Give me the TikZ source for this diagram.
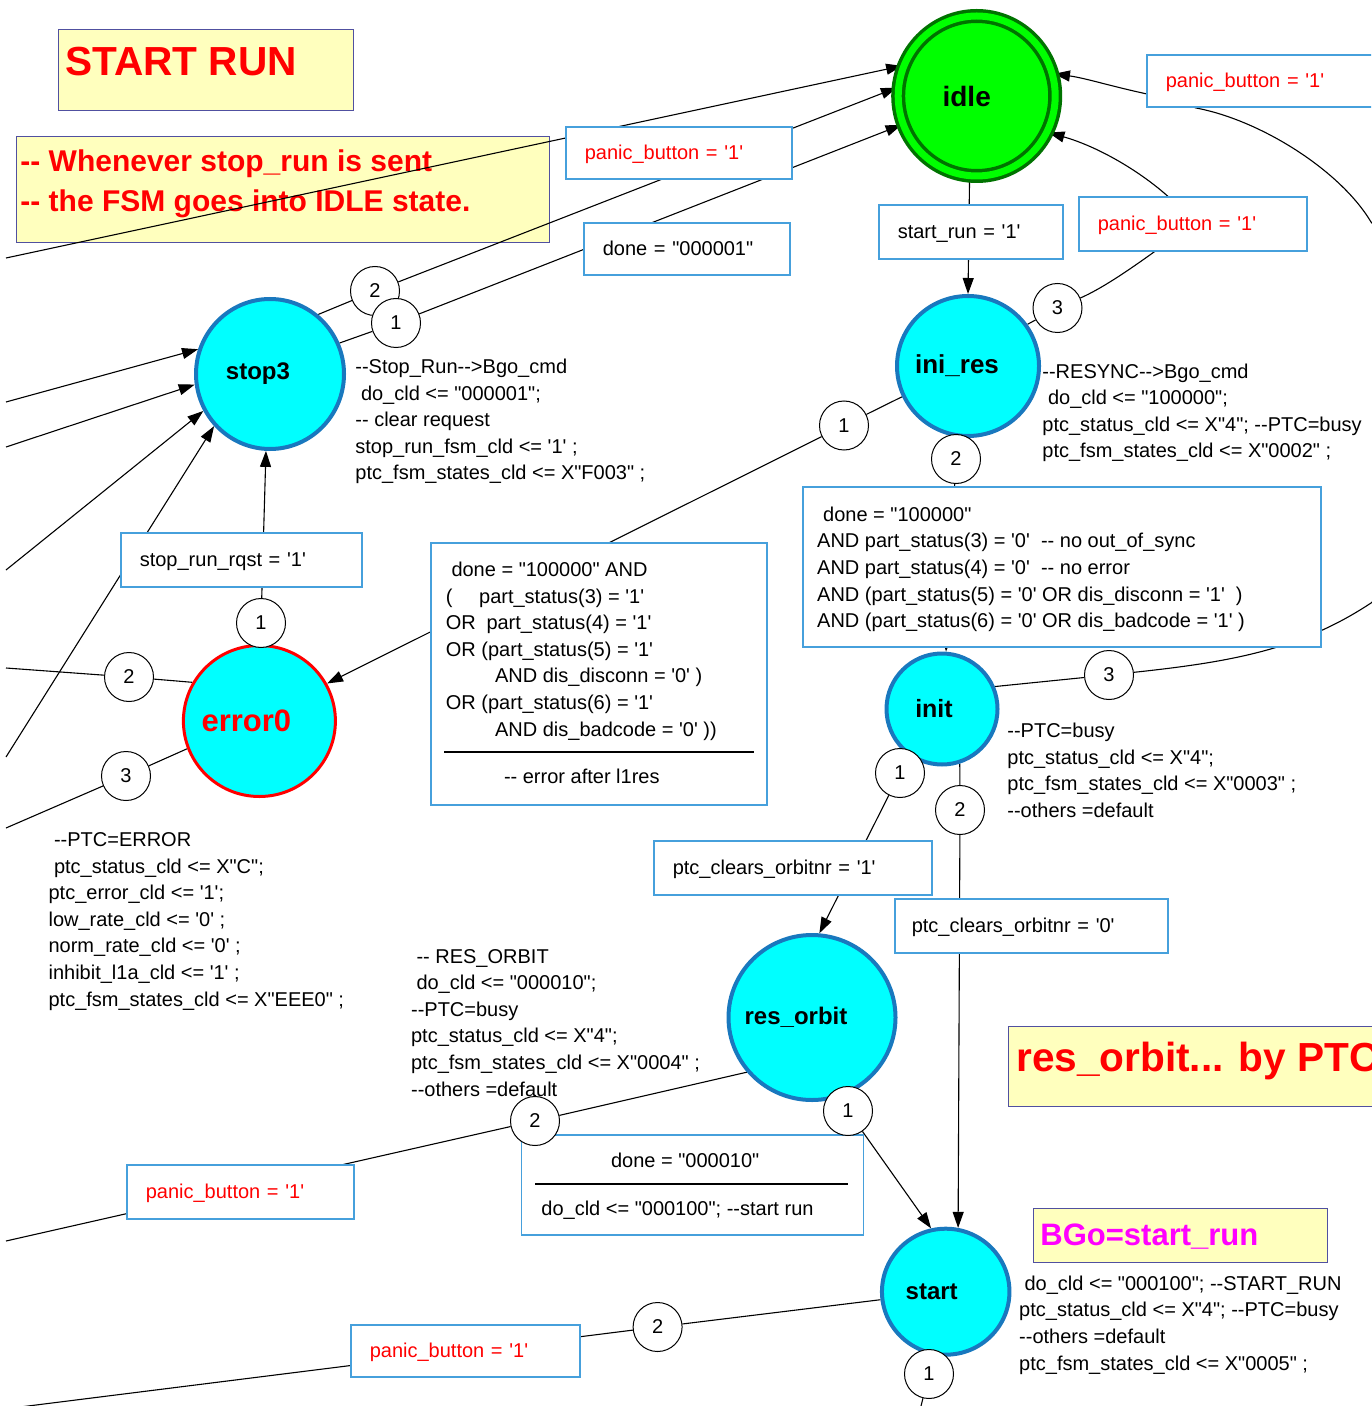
\documentclass[tikz,border=0pt]{standalone}
\usepackage{fontspec}
\newfontfamily\lsans{Liberation Sans}
\usetikzlibrary{shapes.geometric,arrows.meta}
\pgfdeclarelayer{bg}
\pgfdeclarelayer{lines}
\pgfsetlayers{bg,lines,main}
\definecolor{cyanf}{RGB}{0,255,255}
\definecolor{stb}{RGB}{25,120,190}
\definecolor{lblb}{RGB}{70,160,220}
\definecolor{ylw}{RGB}{255,255,190}
\definecolor{ylwb}{RGB}{80,80,160}
\definecolor{idlef}{RGB}{0,255,0}
\definecolor{idleb}{RGB}{0,115,0}
\definecolor{rd}{RGB}{255,0,0}
\definecolor{mag}{RGB}{255,0,255}
\newcommand\nf{\lsans\fontsize{10}{13.3}\selectfont}
\newcommand\stlab[2]{\makebox[0pt]{#2\hspace*{#1}}}
\tikzset{
  state/.style={ellipse, draw=stb, line width=2pt, fill=cyanf, inner sep=0pt},
  num/.style={ellipse, draw, fill=white, line width=0.5pt, minimum width=24.5pt, minimum height=24.5pt, inner sep=0pt, font=\nf},
  lbl/.style 2 args={rectangle, draw=lblb, fill=white, line width=0.8pt, inner xsep=9.5pt, inner ysep=0pt, text height=9pt, text depth=2pt, align=left, anchor=north west, text width=#1, minimum height=#2, font=\nf},
  bigbox/.style 2 args={rectangle, draw=lblb, fill=white, line width=0.8pt, anchor=north west, minimum width=#1, minimum height=#2, inner sep=0pt},
  ybox/.style 2 args={rectangle, draw=ylwb, fill=ylw, line width=0.6pt, anchor=north west, minimum width=#1, minimum height=#2, inner sep=0pt},
  txt/.style={anchor=base west, align=left, inner sep=0pt, font=\nf},
  conn/.style={line width=0.55pt, black},
  arr/.style={conn, -{Triangle[length=8pt,width=5.5pt]}}
}
\begin{document}
\begin{tikzpicture}[x=0.5pt,y=-0.5pt]
\useasboundingbox (0,0) rectangle (1371,1406);
\clip (0,0) rectangle (1371,1406);

% yellow notes (multi-line texts are placed by the baseline of their last line)
\begin{pgfonlayer}{bg}
\node[ybox={147.5pt}{40.5pt}] (yStart) at (58,29) {};
\node[anchor=base west, inner sep=0pt, text=rd, font=\lsans\bfseries\fontsize{20.3}{24}\selectfont] (tStart) at (65,76) {START RUN};
\node[ybox={266.5pt}{53pt}] (yWhen) at (16,136) {};
\node[anchor=base west, inner sep=0pt, align=left, text=rd, font=\lsans\bfseries\fontsize{15}{20}\selectfont] (tWhen) at (20,211.7) {-- Whenever stop\_run is sent\\-- the FSM goes into IDLE state.};
\node[ybox={200pt}{40pt}] (yRes) at (1008,1026) {};
\node[anchor=base west, inner sep=0pt, text=rd, font=\lsans\bfseries\fontsize{20.3}{24}\selectfont] (tRes) at (1015.8,1071.7) {res\_orbit... by PTC};
\node[ybox={147.25pt}{27pt}] (yBGo) at (1032.5,1208) {};
\node[anchor=base west, inner sep=0pt, text=mag, font=\lsans\bfseries\fontsize{15.5}{18}\selectfont] (tBGo) at (1040,1245) {BGo=start\_run};
\end{pgfonlayer}

% states
\node[ellipse, draw=idleb, double=idlef, double distance=3.5pt, line width=1.75pt, fill=idlef, minimum width=78.5pt, minimum height=80pt, inner sep=0pt, font=\lsans\bfseries\fontsize{14}{16}\selectfont] (idle) at (976.7,96) {\stlab{10pt}{idle}};
\node[state, minimum width=74pt, minimum height=75pt, font=\lsans\bfseries\fontsize{12}{14}\selectfont] (stop3) at (270,374) {\stlab{12pt}{stop3}};
\node[state, minimum width=71pt, minimum height=70pt, font=\lsans\bfseries\fontsize{13}{15}\selectfont] (inires) at (968,366) {\stlab{11pt}{ini\_res}};
\node[state, draw=rd, line width=1.5pt, minimum width=76pt, minimum height=75.5pt, text=rd, font=\lsans\bfseries\fontsize{15.5}{18}\selectfont] (error0) at (259.4,721) {\stlab{13pt}{error0}};
\node[state, minimum width=55.5pt, minimum height=55.5pt, font=\lsans\bfseries\fontsize{12.5}{15}\selectfont] (init) at (942,709) {\stlab{8pt}{init}};
\node[state, minimum width=83.5pt, minimum height=82.5pt, font=\lsans\bfseries\fontsize{12}{14}\selectfont] (resorbit) at (812,1017.5) {\stlab{16pt}{res\_orbit}};
\node[state, minimum width=63.75pt, minimum height=63pt, font=\lsans\bfseries\fontsize{12}{14}\selectfont] (start) at (945.7,1291.7) {\stlab{14pt}{start}};

% condition boxes
\node[lbl={94pt}{26pt}] (pbA) at (565,126) {\textcolor{rd}{panic\_button = '1'}};
\node[lbl={84pt}{26pt}] (done1) at (583,222) {done = "000001"};
\node[lbl={73pt}{27pt}] (srun) at (878,204) {start\_run = '1'};
\node[lbl={95pt}{27pt}] (pbR) at (1078,196) {\textcolor{rd}{panic\_button = '1'}};
\node[lbl={98pt}{26pt}] (pbFR) at (1146,54) {\textcolor{rd}{panic\_button = '1'}};
\node[lbl={101.5pt}{27pt}] (rqst) at (120,532) {stop\_run\_rqst = '1'};
\node[lbl={120pt}{27pt}] (ptcA) at (653,840) {ptc\_clears\_orbitnr = '1'};
\node[lbl={119.5pt}{27pt}, inner xsep=8.5pt] (ptcB) at (894,898) {ptc\_clears\_orbitnr = '0'};
\node[lbl={94.5pt}{27pt}] (pbBL) at (126,1164) {\textcolor{rd}{panic\_button = '1'}};
\node[lbl={95.5pt}{26pt}] (pbB) at (350,1324) {\textcolor{rd}{panic\_button = '1'}};

\node[bigbox={168pt}{131pt}] (bigL) at (430,542) {};
\node[txt] (tBigL) at (445.5,736) {\hspace*{2.8pt}done = "100000" AND\\(\hspace{13.3pt}part\_status(3) = '1'\\OR\hspace{5.3pt}part\_status(4) = '1'\\OR (part\_status(5) = '1'\\\hspace*{24.6pt}AND dis\_disconn = '0' )\\OR (part\_status(6) = '1'\\\hspace*{24.6pt}AND dis\_badcode = '0' ))};
\draw[line width=0.6pt] (444,752) -- (754,752);
\node[txt] (tBigL2) at (503.6,783.3) {-- error after l1res};

\node[bigbox={259pt}{80pt}] (bigR) at (802,486) {};
\node[txt] (tBigR) at (816.8,627.7) {\hspace*{3pt}done = "100000"\\AND part\_status(3) = '0'~~-- no out\_of\_sync\\AND part\_status(4) = '0'~~-- no error\\AND (part\_status(5) = '0' OR dis\_disconn = '1'~~)\\AND (part\_status(6) = '0' OR dis\_badcode = '1' )};

\node[bigbox={171pt}{50pt}] (done10) at (520.5,1134) {};
\node[txt] (tD10a) at (610.7,1167.7) {done = "000010"};
\draw[line width=0.6pt] (535,1184) -- (848,1184);
\node[txt] (tD10b) at (541,1215.7) {do\_cld <= "000100"; --start run};

% action texts
\node[txt] (aStop) at (355,480) {--Stop\_Run-->Bgo\_cmd\\\hspace*{2.8pt}do\_cld <= "000001";\\-- clear request\\stop\_run\_fsm\_cld <= '1' ;\\ptc\_fsm\_states\_cld <= X"F003" ;};
\node[txt] (aIni) at (1042,458) {--RESYNC-->Bgo\_cmd\\\hspace*{2.8pt}do\_cld <= "100000";\\ptc\_status\_cld <= X"4"; --PTC=busy\\ptc\_fsm\_states\_cld <= X"0002" ;};
\node[txt] (aInit) at (1007,817.3) {--PTC=busy\\ptc\_status\_cld <= X"4";\\ptc\_fsm\_states\_cld <= X"0003" ;\\--others =default};
\node[txt] (aErr) at (48.2,1006) {\hspace*{2.7pt}--PTC=ERROR\\\hspace*{2.7pt}ptc\_status\_cld <= X"C";\\ptc\_error\_cld <= '1';\\low\_rate\_cld <= '0' ;\\norm\_rate\_cld <= '0' ;\\inhibit\_l1a\_cld <= '1' ;\\ptc\_fsm\_states\_cld <= X"EEE0" ;};
\node[txt] (aRes) at (410.7,1096) {\hspace*{2.7pt}-- RES\_ORBIT\\\hspace*{2.7pt}do\_cld <= "000010";\\--PTC=busy\\ptc\_status\_cld <= X"4";\\ptc\_fsm\_states\_cld <= X"0004" ;\\--others =default};
\node[txt] (aStart) at (1018.8,1370) {\hspace*{2.7pt}do\_cld <= "000100"; --START\_RUN\\ptc\_status\_cld <= X"4"; --PTC=busy\\--others =default\\ptc\_fsm\_states\_cld <= X"0005" ;};

% numbered circles
\node[num] (cs2) at (375,291) {2};
\node[num] (cs1) at (396,323) {1};
\node[num] (ci3) at (1057.5,308) {3};
\node[num] (ci1) at (844,425.5) {1};
\node[num] (ci2) at (956,459) {2};
\node[num] (ce1) at (261,623) {1};
\node[num] (ce2) at (129,677) {2};
\node[num] (ce3) at (126,776) {3};
\node[num] (cn3) at (1109,675) {3};
\node[num] (cn1) at (900,773) {1};
\node[num] (cn2) at (960,810) {2};
\node[num] (cr2) at (535,1121) {2};
\node[num] (cr1) at (848,1111) {1};
\node[num] (ct2) at (657.6,1327) {2};
\node[num] (ct1) at (929,1374) {1};

% free ends
\coordinate (oL1) at (6,258);
\coordinate (oS1) at (6,402);
\coordinate (oS2) at (6,447);
\coordinate (oS3) at (6,570);
\coordinate (oS4) at (6,757);
\coordinate (oE2) at (6,668);
\coordinate (oE3) at (6,828);
\coordinate (oR2) at (6,1241);
\coordinate (oT2) at (20,1407);
\coordinate (oT1) at (920,1410);

\begin{pgfonlayer}{lines}
\draw[arr] (oL1) -- (idle.158);
\draw[conn] (stop3.51) -- (cs2);
\draw[arr] (cs2) -- (idle.174);
\draw[conn] (stop3.24) -- (cs1);
\draw[arr] (cs1) -- (idle.201);
\draw[arr] (oS1) -- (stop3.161);
\draw[arr] (oS2) -- (stop3.188);
\draw[arr] (oS3) -- (stop3.209);
\draw[arr] (oS4) -- (stop3.223);
\draw[arr] (ce1) -- (stop3.267);
\draw[conn] (error0.150) -- (ce2);
\draw[conn] (ce2) -- (oE2);
\draw[conn] (error0.201) -- (ce3);
\draw[conn] (ce3) -- (oE3);
\draw[conn] (inires.205) -- (ci1);
\draw[arr] (ci1) -- (error0.29);
\draw[arr] (ci2) -- (init.86);
\draw[conn] (inires.35) -- (ci3);
\draw[arr] (ci3) .. controls (1110,285) and (1150,255) .. (pbR.center) .. controls (1170,190) and (1110,150) .. (idle.333);
\draw[arr] (idle.265) -- (inires.90);
\draw[conn] (init.23) -- (cn3);
\draw[arr] (cn3) .. controls (1230,662) and (1300,650) .. (1371,603) .. controls (1440,540) and (1440,290) .. (1371,222) .. controls (1340,170) and (1260,120) .. (1196,108) .. controls (1175,100) and (1160,97) .. (1147,94) .. controls (1110,86) and (1085,78) .. (idle.16);
\draw[arr] (cn1) -- (resorbit.85);
\draw[conn] (init.288) -- (cn2);
\draw[arr] (cn2) -- (start.79);
\draw[arr] (cr1) -- (start.103);
\draw[conn] (resorbit.220) -- (cr2);
\draw[conn] (cr2) -- (oR2);
\draw[conn] (start.187) -- (ct2);
\draw[conn] (ct2) -- (oT2);
\draw[conn] (ct1) -- (oT1);
\end{pgfonlayer}
\end{tikzpicture}
\end{document}
